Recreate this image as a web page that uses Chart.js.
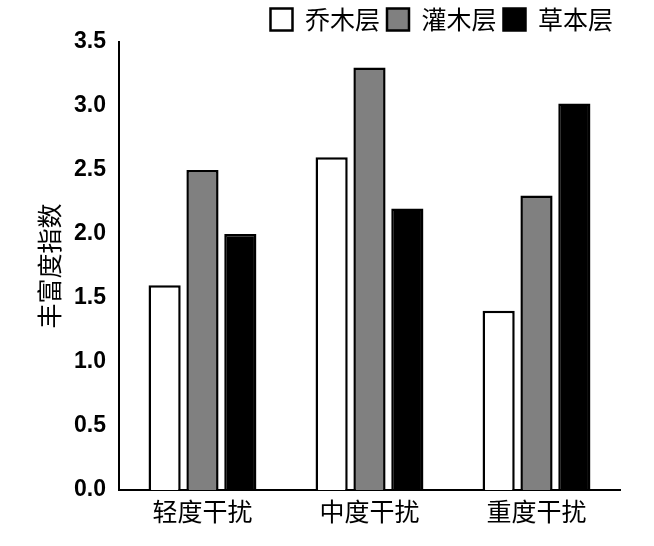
<!DOCTYPE html>
<html><head><meta charset="utf-8">
<script src="https://cdn.jsdelivr.net/npm/chart.js@4/dist/chart.umd.min.js"></script>
<style>html,body{margin:0;padding:0;background:#fff}#w{width:654px;height:546px}</style>
</head><body><div id="w"><canvas id="c"></canvas></div>
<script>
const categories = ['轻度干扰','中度干扰','重度干扰'];
const seriesNames = ['乔木层','灌木层','草本层'];
const treeLayer = [1.6, 2.6, 1.4];
const shrubLayer = [2.5, 3.3, 2.3];
const herbLayer = [2.0, 2.2, 3.02];
const colors = ['#ffffff','#808080','#000000'];
const cjk = '"Noto Sans CJK SC", sans-serif';
new Chart(document.getElementById('c'), {
  type: 'bar',
  data: {
    labels: categories,
    datasets: [treeLayer, shrubLayer, herbLayer].map((d,i)=>({
      label: seriesNames[i], data: d, backgroundColor: colors[i],
      borderColor: '#000', borderWidth: 2.5
    }))
  },
  options: {
    responsive: true, maintainAspectRatio: false, animation: false,
    categoryPercentage: 0.68, barPercentage: 0.85,
    layout: {padding: {left: 30, right: 34, top: 0, bottom: 14}},
    plugins: {
      legend: {position: 'top', align: 'end',
        labels: {color:'#000', font: {family: cjk, size: 25}, boxWidth: 22, boxHeight: 22, padding: 7}},
      tooltip: {enabled: false}
    },
    scales: {
      x: {grid: {display: false, drawTicks: false},
          border: {color: '#000', width: 2},
          ticks: {color: '#000', font: {family: cjk, size: 25}, padding: 6}},
      y: {min: 0, max: 3.5,
          grid: {display: false, drawTicks: true, tickLength: 7, tickColor: '#000'},
          border: {color: '#000', width: 2},
          ticks: {stepSize: 0.5, color: '#000', font: {family: 'Liberation Sans', size: 23, weight: 'bold'},
                  padding: 6, callback: v => v.toFixed(1)},
          title: {display: true, text: '丰富度指数', color: '#000', font: {family: cjk, size: 25}, padding: 4}}
    }
  }
});
</script></body></html>
